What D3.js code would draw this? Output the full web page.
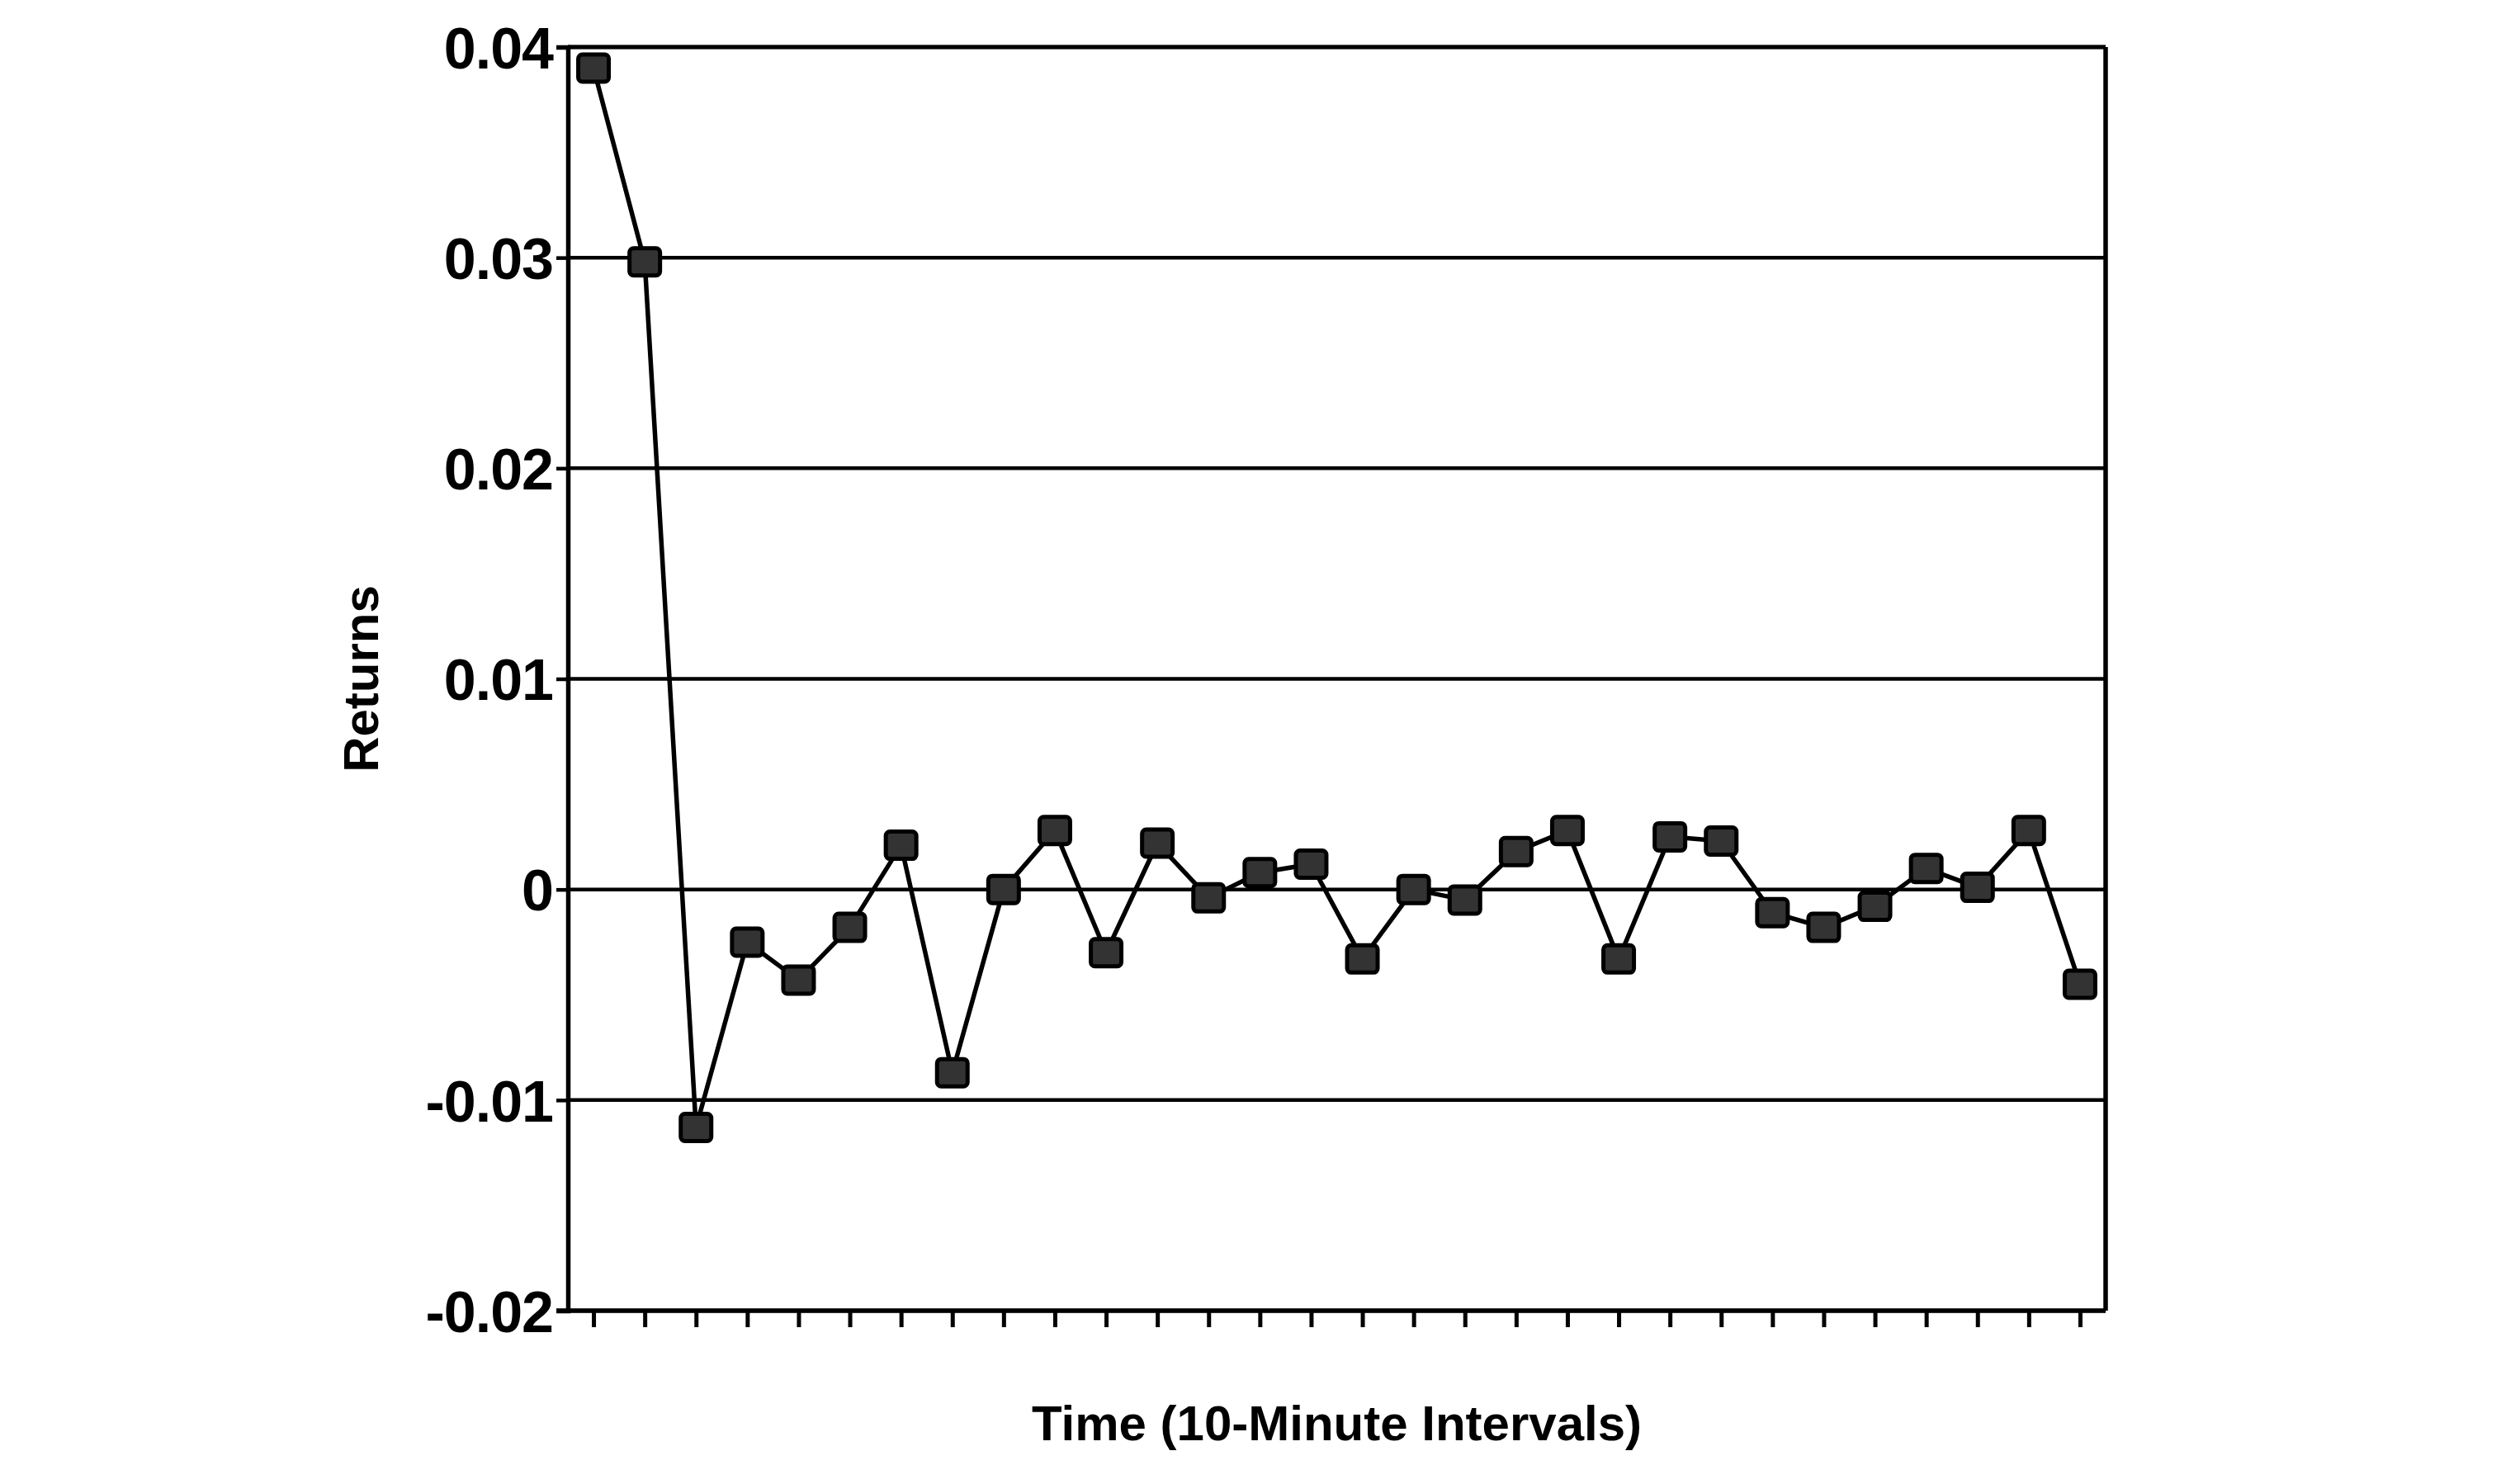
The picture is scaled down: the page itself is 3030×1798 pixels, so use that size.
<!DOCTYPE html>
<html>
<head>
<meta charset="utf-8">
<script src="https://cdn.jsdelivr.net/npm/d3@7"></script>
<style>
  html, body { margin: 0; padding: 0; background: #fff; }
  svg { display: block; }
  text { font-family: "Liberation Sans", Arial, Helvetica, sans-serif; font-weight: bold; fill: #000; }
</style>
</head>
<body>
<svg id="chart" width="3030" height="1798"></svg>
<script>
// ---- data ----
const intervals = [1,2,3,4,5,6,7,8,9,10,11,12,13,14,15,16,17,18,19,20,21,22,23,24,25,26,27,28,29,30];
const returns = [0.0390, 0.0298, -0.0113, -0.0025, -0.0043, -0.0018, 0.0021, -0.0087, 0.0000, 0.0028,
                 -0.0030, 0.0022, -0.0004, 0.0008, 0.0012, -0.0033, 0.0000, -0.0005, 0.0018, 0.0028,
                 -0.0033, 0.0025, 0.0023, -0.0011, -0.0018, -0.0008, 0.0010, 0.0001, 0.0028, -0.0045];
const yTickValues = [-0.02, -0.01, 0, 0.01, 0.02, 0.03, 0.04];
const yTickLabels = ["-0.02", "-0.01", "0", "0.01", "0.02", "0.03", "0.04"];
const xTitle = "Time (10-Minute Intervals)";
const yTitle = "Returns";

// ---- layout ----
const plotLeft = 688, plotRight = 2551, plotTop = 57, plotBottom = 1588;
const svg = d3.select("#chart");

const x = d3.scalePoint().domain(intervals).range([plotLeft, plotRight]).padding(0.5);
const y = d3.scaleLinear().domain([-0.02, 0.04]).range([plotBottom, plotTop]);

// gridlines
svg.append("g")
  .selectAll("line")
  .data(yTickValues)
  .join("line")
  .attr("x1", plotLeft).attr("x2", plotRight)
  .attr("y1", d => y(d)).attr("y2", d => y(d))
  .attr("stroke", "#000")
  .attr("stroke-width", 4.5);

// y axis
const yAxis = d3.axisLeft(y).tickValues(yTickValues)
  .tickFormat((d, i) => yTickLabels[i]).tickSize(14).tickPadding(4);
const gy = svg.append("g").attr("transform", `translate(${plotLeft},0)`).call(yAxis);
gy.select(".domain").attr("stroke", "#000").attr("stroke-width", 5.5);
gy.selectAll(".tick line").attr("stroke", "#000").attr("stroke-width", 4.5);
gy.selectAll(".tick text").attr("font-size", 70).attr("font-family", null)
  .attr("letter-spacing", "-1px").attr("dy", "0.36em");

// x axis
const xAxis = d3.axisBottom(x).tickSize(20).tickFormat("");
const gx = svg.append("g").attr("transform", `translate(0,${plotBottom})`).call(xAxis);
gx.select(".domain").attr("stroke", "#000").attr("stroke-width", 5.5)
  .attr("d", `M${plotLeft - 14},0H${plotRight}`);
gx.selectAll(".tick line").attr("stroke", "#000").attr("stroke-width", 5);

// top and right frame
svg.append("line").attr("x1", plotLeft).attr("x2", plotRight).attr("y1", plotTop).attr("y2", plotTop)
  .attr("stroke", "#000").attr("stroke-width", 5);
svg.append("line").attr("x1", plotRight).attr("x2", plotRight).attr("y1", plotTop).attr("y2", plotBottom)
  .attr("stroke", "#000").attr("stroke-width", 5.5);

// series line
const line = d3.line().x((d, i) => x(intervals[i])).y(d => y(d));
svg.append("path").datum(returns)
  .attr("d", line)
  .attr("fill", "none")
  .attr("stroke", "#000")
  .attr("stroke-width", 5.5)
  .attr("stroke-linejoin", "round");

// markers
const mw = 37, mh = 33;
svg.append("g").selectAll("rect")
  .data(returns)
  .join("rect")
  .attr("x", (d, i) => x(intervals[i]) - mw / 2)
  .attr("y", d => y(d) - mh / 2)
  .attr("width", mw).attr("height", mh)
  .attr("rx", 5)
  .attr("fill", "#333")
  .attr("stroke", "#000")
  .attr("stroke-width", 5);

// axis titles
svg.append("text")
  .attr("x", (plotLeft + plotRight) / 2).attr("y", 1745)
  .attr("text-anchor", "middle")
  .attr("font-size", 60)
  .text(xTitle);

svg.append("text")
  .attr("transform", `translate(458,${(plotTop + plotBottom) / 2}) rotate(-90)`)
  .attr("text-anchor", "middle")
  .attr("font-size", 60)
  .text(yTitle);
</script>
</body>
</html>
